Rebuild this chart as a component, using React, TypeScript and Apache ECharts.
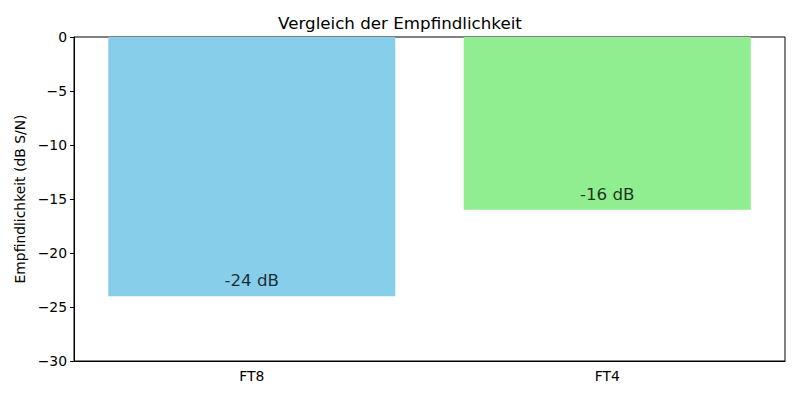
import React, { useEffect, useRef } from "react";
import * as echarts from "echarts";

const categories = ["FT8", "FT4"];
const sensitivity = [-24, -16];
const barColors = ["#87CEEB", "#90EE90"];
const labelOffset = 1;

export default function App() {
  const ref = useRef<HTMLDivElement>(null);
  useEffect(() => {
    if (!ref.current) return;
    const chart = echarts.init(ref.current, null, { renderer: "svg" });
    const font = "DejaVu Sans";
    chart.setOption({
      animation: false,
      textStyle: { fontFamily: font },
      title: {
        text: "Vergleich der Empfindlichkeit",
        left: "center",
        top: 9,
        textStyle: { fontFamily: font, fontSize: 16.7, fontWeight: "normal", color: "#000" },
      },
      grid: {
        left: 74,
        right: 15,
        top: 37,
        bottom: 39,
        show: true,
        borderColor: "#000",
        borderWidth: 1,
        backgroundColor: "transparent",
      },
      xAxis: {
        type: "category",
        data: categories,
        axisLine: { onZero: false, lineStyle: { color: "#000" } },
        axisTick: { alignWithLabel: true, length: 4, lineStyle: { color: "#000" } },
        axisLabel: { color: "#000", fontSize: 13.9, fontFamily: font, margin: 8 },
      },
      yAxis: {
        type: "value",
        min: -30,
        max: 0,
        interval: 5,
        name: "Empfindlichkeit (dB S/N)",
        nameLocation: "middle",
        nameGap: 47,
        nameTextStyle: { color: "#000", fontSize: 13.9, fontFamily: font },
        axisLine: { show: true, lineStyle: { color: "#000" } },
        axisTick: { show: true, length: 4, lineStyle: { color: "#000" } },
        splitLine: { show: false },
        axisLabel: {
          color: "#000",
          fontSize: 13.9,
          fontFamily: font,
          margin: 7,
          formatter: (v: number) => (v < 0 ? "\u2212" + Math.abs(v) : String(v)),
        },
      },
      series: [
        {
          type: "bar",
          data: sensitivity.map((v, i) => ({ value: v, itemStyle: { color: barColors[i] } })),
          barWidth: 287,
        },
        {
          type: "scatter",
          data: sensitivity.map((v) => v + labelOffset),
          symbolSize: 0,
          label: {
            show: true,
            position: "top",
            distance: -3,
            fontSize: 16.7,
            fontFamily: font,
            color: "#000",
            textBorderWidth: 0,
            formatter: (p: any) => `${sensitivity[p.dataIndex]} dB`,
          },
        },
      ],
    });
    return () => chart.dispose();
  }, []);
  return <div ref={ref} style={{ width: 800, height: 400, position: "absolute", left: 0, top: 0 }} />;
}
